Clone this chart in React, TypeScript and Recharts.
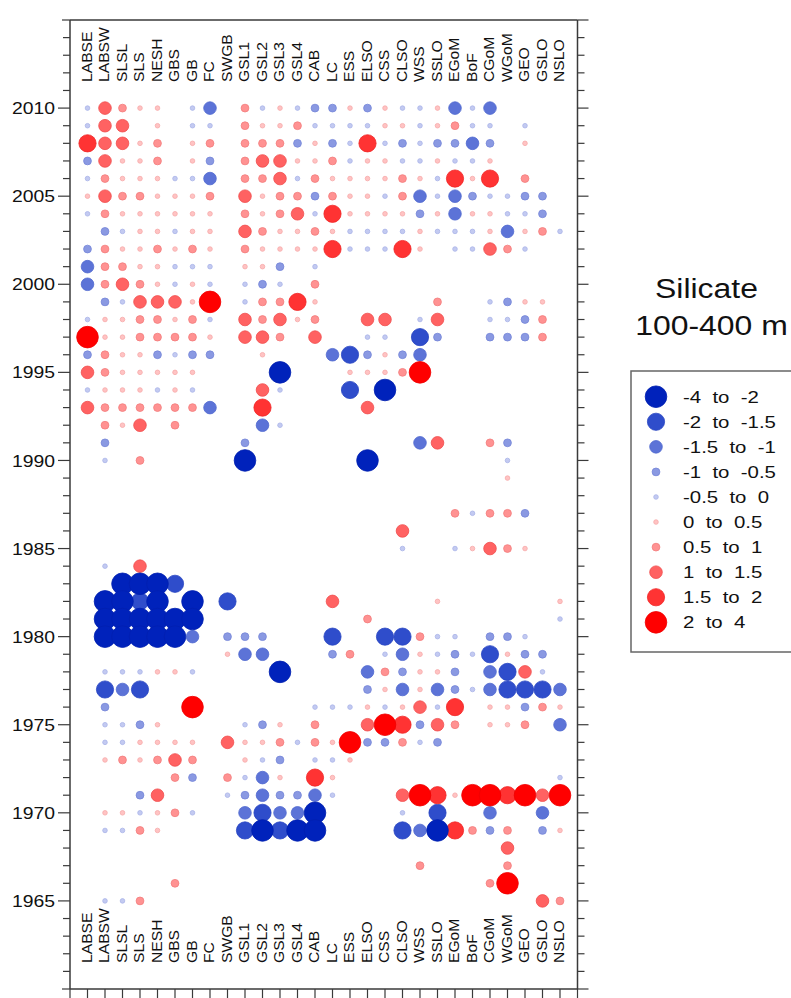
import { ScatterChart, Scatter, XAxis, YAxis, Legend, ReferenceDot } from 'recharts'

document.body.style.margin = '0'
document.body.style.overflow = 'hidden'

const FONT = '"Liberation Sans", Arial, sans-serif'
const INK = '#111'
const FRAME = '#3a3a3a'

const REGIONS = [
  'LABSE', 'LABSW', 'SLSL', 'SLS', 'NESH', 'GBS', 'GB', 'FC', 'SWGB', 'GSL1',
  'GSL2', 'GSL3', 'GSL4', 'CAB', 'LC', 'ESS', 'ELSO', 'CSS', 'CLSO', 'WSS',
  'SSLO', 'EGoM', 'BoF', 'CGoM', 'WGoM', 'GEO', 'GSLO', 'NSLO',
]

// one string per year, one character per region (REGIONS order)
// A B C D E : -4..-2, -2..-1.5, -1.5..-1, -1..-0.5, -0.5..0
// e d c b a : 0..0.5, 0.5..1, 1..1.5, 1.5..2, 2..4      '.' : no data
const YEARS_2000S = [2010, 2009, 2008, 2007, 2006, 2005, 2004, 2003, 2002, 2001, 2000]
const CODES_2000S = [
  'Ecdee.EC.dEeEDDeDeEEeCEC....',
  'Ecc.e.EE.deedEEEEeeEedEE.E..',
  'bcced.ed.dddDeDEbEDEDDCD.e..',
  'Dceed.eD.dcceedEeeEEeEEe....',
  'EdeeeEEC.ddcEdeeeedeEbeb.d..',
  'ecddeeed.ceddDdeeEdCECDEEDD.',
  'Edeeeeee.dedcEbeeeeDeCeeEED.',
  '.DEeeEee.cdeedeEEEEeEEEeCedE',
  'Ddeedede.deeeebEEEbe.EEcdE..',
  'CddeeEEE.eeD.E..............',
  'CdcdeEeE.EDE.d..............',
]

const YEARS_1990S = [1999, 1998, 1997, 1996, 1995, 1994, 1993, 1992, 1991, 1990]
const CODES_1990S = [
  '.DEcccea.Eddbe......d..EDee.',
  'EeeddedE.cdced..cc.Ec..EEDd.',
  'aeedddde.ccd.c..EE.BD..DDDd.',
  'DdeeDEDD..e...CBDeDC........',
  'cdeeeee....A...eeeda........',
  'EeeeEeE...cE...B.A..........',
  'cddddddC..b.....c...........',
  '.dec.d....CE................',
  '.D.......D.........Cc..dD...',
  '.E.d.....A......A.......E...',
]

const YEARS_1980S = [1989, 1988, 1987, 1986, 1985, 1984, 1983, 1982, 1981, 1980]
const CODES_1980S = [
  '........................e...',
  '............................',
  '.....................dEddD..',
  '..................c.........',
  '..................E..Eecde..',
  '.E.c........................',
  '..AAAB......................',
  '.AABA.A.B.....c.....e......e',
  '.AAAAAA.........d..........E',
  '.AAAAAC.DDD...B..BBdEE.DDE..',
]

const YEARS_1970S = [1979, 1978, 1977, 1976, 1975, 1974, 1973, 1972, 1971, 1970]
const CODES_1970S = [
  '........eCC...Dd.ECeEDEBeDD.',
  '.EEEeeE....A....CdDeeD.CBcE.',
  '.BCB............DeCeCDECBBBC',
  '.D....a......EEEeEecEb.eeDde',
  '.EEDe....EDe.d..cabDcd.eed.C',
  '.EEeeee.ceedEdeaDDdED.......',
  '.ededcd..eED.EEe............',
  '.....dD.dECe.be............E',
  '...Dc...EDCDDCE...cabeaabaca',
  '.eeEedE..CBCCA....E.B..C..C.',
]

const YEARS_1960S = [1969, 1968, 1967, 1966, 1965]
const CODES_1960S = [
  '.EEde....BABAA....BCAbdDd.De',
  '........................c...',
  '...................d....d...',
  '.....d.................da...',
  '.EEd......................cd',
]

const CLASS_CODES = ['A', 'B', 'C', 'D', 'E', 'e', 'd', 'c', 'b', 'a']
const CLASS_MIDS = [-3, -1.75, -1.25, -0.75, -0.25, 0.25, 0.75, 1.25, 1.75, 3]
const CLASS_EDGES = [-4, -2, -1.5, -1, -0.5, 0, 0.5, 1, 1.5, 2, 4.001]
const CLASS_LABELS = [
  '-4  to  -2', '-2  to  -1.5', '-1.5  to  -1', '-1  to  -0.5', '-0.5  to  0',
  '0  to  0.5', '0.5  to  1', '1  to  1.5', '1.5  to  2', '2  to  4',
]
const CLASS_FILL = [
  '#0022bb', '#2f4dcb', '#5c73d7', '#8a99e2', '#c3caf1',
  '#ffc3c3', '#ff9292', '#ff6262', '#ff3333', '#ff0000',
]
const CLASS_EDGE = [
  '#0020b0', '#2845c2', '#4f68cf', '#7585d8', '#aab4e8',
  '#f6aaaa', '#f27c7c', '#f04e4e', '#f02424', '#f00000',
]
const CLASS_R = [10.8, 8.6, 6.3, 3.9, 2.3, 2.3, 3.9, 6.3, 8.6, 10.8]
// small marks underneath, large marks on top
const DRAW_ORDER = [4, 5, 3, 6, 2, 7, 1, 8, 0, 9]

type Pt = { x: number; y: number; v: number; region: string }

const BLOCKS: [number[], string[]][] = [
  [YEARS_2000S, CODES_2000S],
  [YEARS_1990S, CODES_1990S],
  [YEARS_1980S, CODES_1980S],
  [YEARS_1970S, CODES_1970S],
  [YEARS_1960S, CODES_1960S],
]

const points: Pt[] = []
BLOCKS.forEach(([years, codes]) => {
  years.forEach((yr, i) => {
    codes[i].split('').forEach((ch, k) => {
      const ci = CLASS_CODES.indexOf(ch)
      if (ci >= 0 && k < REGIONS.length) points.push({ x: k + 1, y: yr, v: CLASS_MIDS[ci], region: REGIONS[k] })
    })
  })
})

const classOf = (v: number) => CLASS_EDGES.findIndex((e, i) => v >= e && v < CLASS_EDGES[i + 1])
const seriesData = CLASS_LABELS.map((_, ci) => points.filter((p) => classOf(p.v) === ci))

const X_TICKS = Array.from({ length: 30 }, (_, i) => i)
const Y_TICKS = Array.from({ length: 56 }, (_, i) => 1960 + i)
const Y_MAX = 2015

const nb = (s: string) => s.replace(/ /g, '\u00a0')

function LeftTick(props: any) {
  const x = Number(props.x)
  const y = Number(props.y)
  const yr = Math.round(Number(props.payload.value))
  const edge = yr === 1960 || yr === 2015
  const major = yr % 5 === 0 && !edge
  const len = major ? 12 : edge ? 8 : 7
  return (
    <g>
      <line x1={x - len} x2={x} y1={y} y2={y} stroke={FRAME} strokeWidth={1.2} />
      {major && (
        <text
          transform={`translate(${x - 15},${y}) scale(1.14,1)`}
          textAnchor="end"
          dy="0.36em"
          fontSize={17}
          fontFamily={FONT}
          fill={INK}
        >
          {yr}
        </text>
      )}
    </g>
  )
}

function RightTick(props: any) {
  const x = Number(props.x)
  const y = Number(props.y)
  const yr = Math.round(Number(props.payload.value))
  const major = yr % 5 === 0
  return <line x1={x} x2={x + (major ? 11 : 7)} y1={y} y2={y} stroke={FRAME} strokeWidth={1.2} />
}

function regionLabel(x: number, start: number, label: string) {
  return (
    <text
      transform={`translate(${x + 4},${start}) rotate(-90) scale(1.08,1)`}
      textAnchor="start"
      fontSize={14.5}
      fontFamily={FONT}
      fill={INK}
    >
      {label}
    </text>
  )
}

function BottomTick(props: any) {
  const x = Number(props.x)
  const y = Number(props.y)
  const label = REGIONS[Math.round(Number(props.payload.value)) - 1]
  return (
    <g>
      <line x1={x} x2={x} y1={y} y2={y + 10} stroke={FRAME} strokeWidth={1.2} />
      {label && regionLabel(x, y - 26, label)}
    </g>
  )
}

function TopTick(props: any) {
  const x = Number(props.x)
  const y = Number(props.y)
  return <line x1={x} x2={x} y1={y} y2={y - 10} stroke={FRAME} strokeWidth={1.2} />
}

function LegendPanel() {
  return (
    <svg width={191} height={400} style={{ overflow: 'visible' }}>
      <text transform="translate(106.5,33) scale(1.14,1)" textAnchor="middle" fontSize={28} fontFamily={FONT} fill={INK}>
        Silicate
      </text>
      <text transform="translate(111.5,70) scale(1.14,1)" textAnchor="middle" fontSize={28} fontFamily={FONT} fill={INK}>
        100-400 m
      </text>
      <rect x={31} y={106} width={175} height={281} fill="#fff" stroke="#666" strokeWidth={1.5} />
      {CLASS_LABELS.map((lab, ci) => {
        const cy = 131.7 + ci * 25.07
        return (
          <g key={lab}>
            <circle cx={56} cy={cy} r={CLASS_R[ci]} fill={CLASS_FILL[ci]} stroke={CLASS_EDGE[ci]} strokeWidth={0.8} />
            <text transform={`translate(83,${cy}) scale(1.2,1)`} dy="0.36em" fontSize={17} fontFamily={FONT} fill={INK}>
              {nb(lab)}
            </text>
          </g>
        )
      })}
    </svg>
  )
}

export default function App() {
  return (
    <ScatterChart width={791} height={998} margin={{ top: 0, right: 0, bottom: 0, left: 0 }}>
      <XAxis
        xAxisId="bottom"
        dataKey="x"
        type="number"
        domain={[0, 29]}
        allowDataOverflow
        ticks={X_TICKS}
        interval={0}
        height={9}
        tickSize={0}
        tickMargin={0}
        tickLine={false}
        axisLine={{ stroke: FRAME, strokeWidth: 1.5 }}
        tick={BottomTick}
      />
      <XAxis
        xAxisId="top"
        orientation="top"
        type="number"
        domain={[0, 29]}
        allowDataOverflow
        ticks={X_TICKS}
        interval={0}
        height={20}
        tickSize={0}
        tickMargin={0}
        tickLine={false}
        axisLine={{ stroke: FRAME, strokeWidth: 1.5 }}
        tick={TopTick}
      />
      <YAxis
        yAxisId="left"
        dataKey="y"
        type="number"
        domain={[1960, Y_MAX]}
        allowDataOverflow
        ticks={Y_TICKS}
        interval={0}
        width={70}
        tickSize={0}
        tickMargin={0}
        tickLine={false}
        axisLine={{ stroke: FRAME, strokeWidth: 1.5 }}
        tick={LeftTick}
      />
      <YAxis
        yAxisId="right"
        orientation="right"
        type="number"
        domain={[1960, Y_MAX]}
        allowDataOverflow
        ticks={Y_TICKS}
        interval={0}
        width={213.5}
        tickSize={0}
        tickMargin={0}
        tickLine={false}
        axisLine={{ stroke: FRAME, strokeWidth: 1.5 }}
        tick={RightTick}
      />
      {DRAW_ORDER.map((ci) => (
        <Scatter
          key={ci}
          name={CLASS_LABELS[ci]}
          data={seriesData[ci]}
          xAxisId="bottom"
          yAxisId="left"
          isAnimationActive={false}
          shape={(p: any) => (
            <circle cx={p.cx} cy={p.cy} r={CLASS_R[ci]} fill={CLASS_FILL[ci]} stroke={CLASS_EDGE[ci]} strokeWidth={0.8} />
          )}
        />
      ))}
      {REGIONS.map((name, k) => (
        <ReferenceDot
          key={name}
          x={k + 1}
          y={Y_MAX}
          xAxisId="bottom"
          yAxisId="left"
          ifOverflow="visible"
          shape={(p: any) => regionLabel(Number(p.cx), Number(p.cy) + 62, name)}
        />
      ))}
      <Legend
        layout="vertical"
        align="center"
        verticalAlign="middle"
        content={() => <LegendPanel />}
        wrapperStyle={{ position: 'absolute', left: 600, top: 265, width: 191, height: 400 }}
      />
    </ScatterChart>
  )
}
